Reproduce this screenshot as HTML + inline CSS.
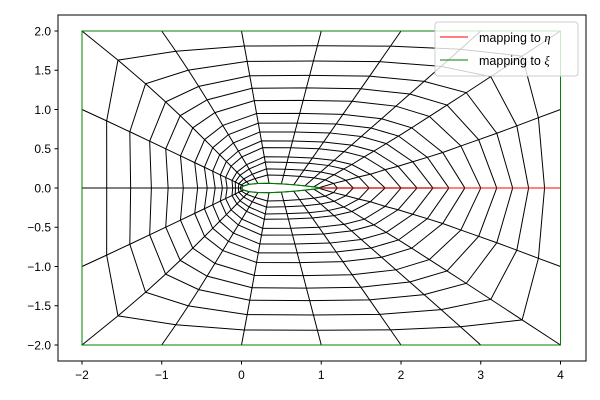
<!DOCTYPE html>
<html><head><meta charset="utf-8"><style>
body{margin:0;background:#fff}
svg{display:block;font-family:"Liberation Sans","DejaVu Sans",sans-serif}
</style></head><body>
<svg id="c" width="600" height="400" viewBox="0 0 600 400">
<rect x="0" y="0" width="600" height="400" fill="#fff"/>
<g id="grid"></g>
<g id="bnd"></g>
<rect x="58" y="15" width="528" height="346" fill="none" stroke="#000" stroke-width="1"/>
<g id="ticks" font-size="12" fill="#000"></g>
<g>
<rect x="435" y="22" width="143" height="54" rx="3" fill="#fff" fill-opacity="0.8" stroke="#ccc"/>
<line x1="440" y1="37" x2="468" y2="37" stroke="red" stroke-width="1"/>
<text x="479" y="42" font-size="12.5">mapping to <tspan font-family="Liberation Serif,serif" font-style="italic">η</tspan></text>
<line x1="440" y1="60" x2="468" y2="60" stroke="green" stroke-width="1"/>
<text x="479" y="65" font-size="12.5">mapping to <tspan font-family="Liberation Serif,serif" font-style="italic">ξ</tspan></text>
</g>
</svg>
<script>
const ringStretch=[0,0.008,0.02,0.038,0.055,0.09,0.12,0.165,0.215,0.275,0.365,0.46,0.565,0.695,0.845,1];
const stretchExp=[0.6,0.6,0.6,0.6,0.6,0.6,0.6,0.7,0.8,0.9,1.0];
const outerX=[4,4,4,3,2,1,0,-1,-2,-2,-2];
const outerY=[0,1,2,2,2,2,2,2,2,1,0];
const xTicks=[-2,-1,0,1,2,3,4];
const yTicks=[2,1.5,1,0.5,0,-0.5,-1,-1.5,-2];
const wakeStart=1, wakeEnd=4;
const NS="http://www.w3.org/2000/svg";
function sx(x){return 82+79.75*(x+2);}
function sy(y){return 188-78.5*y;}
function thick(x){x=Math.max(0,Math.min(1,x));return 0.6*(0.2969*Math.sqrt(x)-0.126*x-0.3516*x*x+0.2843*x*x*x-0.1015*x*x*x*x);}
const K=ringStretch.length-1, H=outerX.length-1, N=2*H;
function mi(i){return i<=H?i:N-i;}
function sg(i){return i<=H?1:-1;}
function B(i){const m=mi(i);const x=(1+Math.cos(Math.PI*m/H))/2;return [x,thick(x)*sg(i)];}
function T(i,k){const m=mi(i);const rx=outerX[m],ry=outerY[m];
 const dx=rx-1,dy=ry,p=3.5;
 const t=Math.pow(Math.pow(Math.abs(dx)/3,p)+Math.pow(Math.abs(dy)/2,p),-1/p);
 const ex=1+dx*t,ey=dy*t;
 const w=Math.pow(ringStretch[k],3);
 return [w*rx+(1-w)*ex,(w*ry+(1-w)*ey)*sg(i)];}
function raw(i,k){const m=mi(i);const f=Math.pow(ringStretch[k],stretchExp[m]);const b=B(i),t=T(i,k);
 return [(1-f)*b[0]+f*t[0],(1-f)*b[1]+f*t[1]];}
function P(i,k){const r=raw(i,k);const m=mi(i);const r0=raw(0,k);
 const xk=wakeStart+(wakeEnd-wakeStart)*k/K;const d=xk-r0[0];
 const w=Math.pow(Math.max(0,1-m/3),2);
 return [r[0]+d*w,r[1]];}
const g=document.getElementById('grid');
function poly(pts,stroke,parent,name){const p=document.createElementNS(NS,'polyline');
 p.setAttribute('points',pts.map(q=>sx(q[0]).toFixed(2)+','+sy(q[1]).toFixed(2)).join(' '));
 p.setAttribute('fill','none');p.setAttribute('stroke',stroke);p.setAttribute('stroke-width','1');
 
 
 parent.appendChild(p);}
for(let k=0;k<=K;k++){const pts=[];for(let i=0;i<=N;i++)pts.push(P(i,k));poly(pts,'#000',g,'ring-line');}
for(let i=0;i<=N;i++){const pts=[];for(let k=0;k<=K;k++)pts.push(P(i,k));poly(pts,'#000',g,'radial-line');}
const bd=document.getElementById('bnd');
poly([[wakeStart,0],[wakeEnd,0]],'red',bd,'wake-line');
const af=[];for(let j=0;j<=200;j++){const a=2*Math.PI*j/200;const x=(1+Math.cos(a))/2;af.push([x,thick(x)*(a<=Math.PI?1:-1)]);}
poly(af,'green',bd,'airfoil-boundary');
poly([[4,0],[4,2],[-2,2],[-2,-2],[4,-2],[4,0]],'green',bd,'outer-boundary');
const tk=document.getElementById('ticks');
xTicks.forEach(v=>{const l=document.createElementNS(NS,'line');l.setAttribute('x1',sx(v));l.setAttribute('x2',sx(v));l.setAttribute('y1',361);l.setAttribute('y2',364.5);l.setAttribute('stroke','#000');
 
 tk.appendChild(l);
 const t=document.createElementNS(NS,'text');t.setAttribute('x',sx(v));t.setAttribute('y',379);t.setAttribute('text-anchor','middle');t.textContent=(v<0?'\u2212':'')+Math.abs(v);
 
 tk.appendChild(t);});
yTicks.forEach(v=>{const l=document.createElementNS(NS,'line');l.setAttribute('x1',54.5);l.setAttribute('x2',58);l.setAttribute('y1',sy(v));l.setAttribute('y2',sy(v));l.setAttribute('stroke','#000');
 
 tk.appendChild(l);
 const t=document.createElementNS(NS,'text');t.setAttribute('x',51);t.setAttribute('y',sy(v)+4.3);t.setAttribute('text-anchor','end');t.textContent=(v<0?'\u2212':'')+Math.abs(v).toFixed(1);
 
 tk.appendChild(t);});
</script>
</body></html>
